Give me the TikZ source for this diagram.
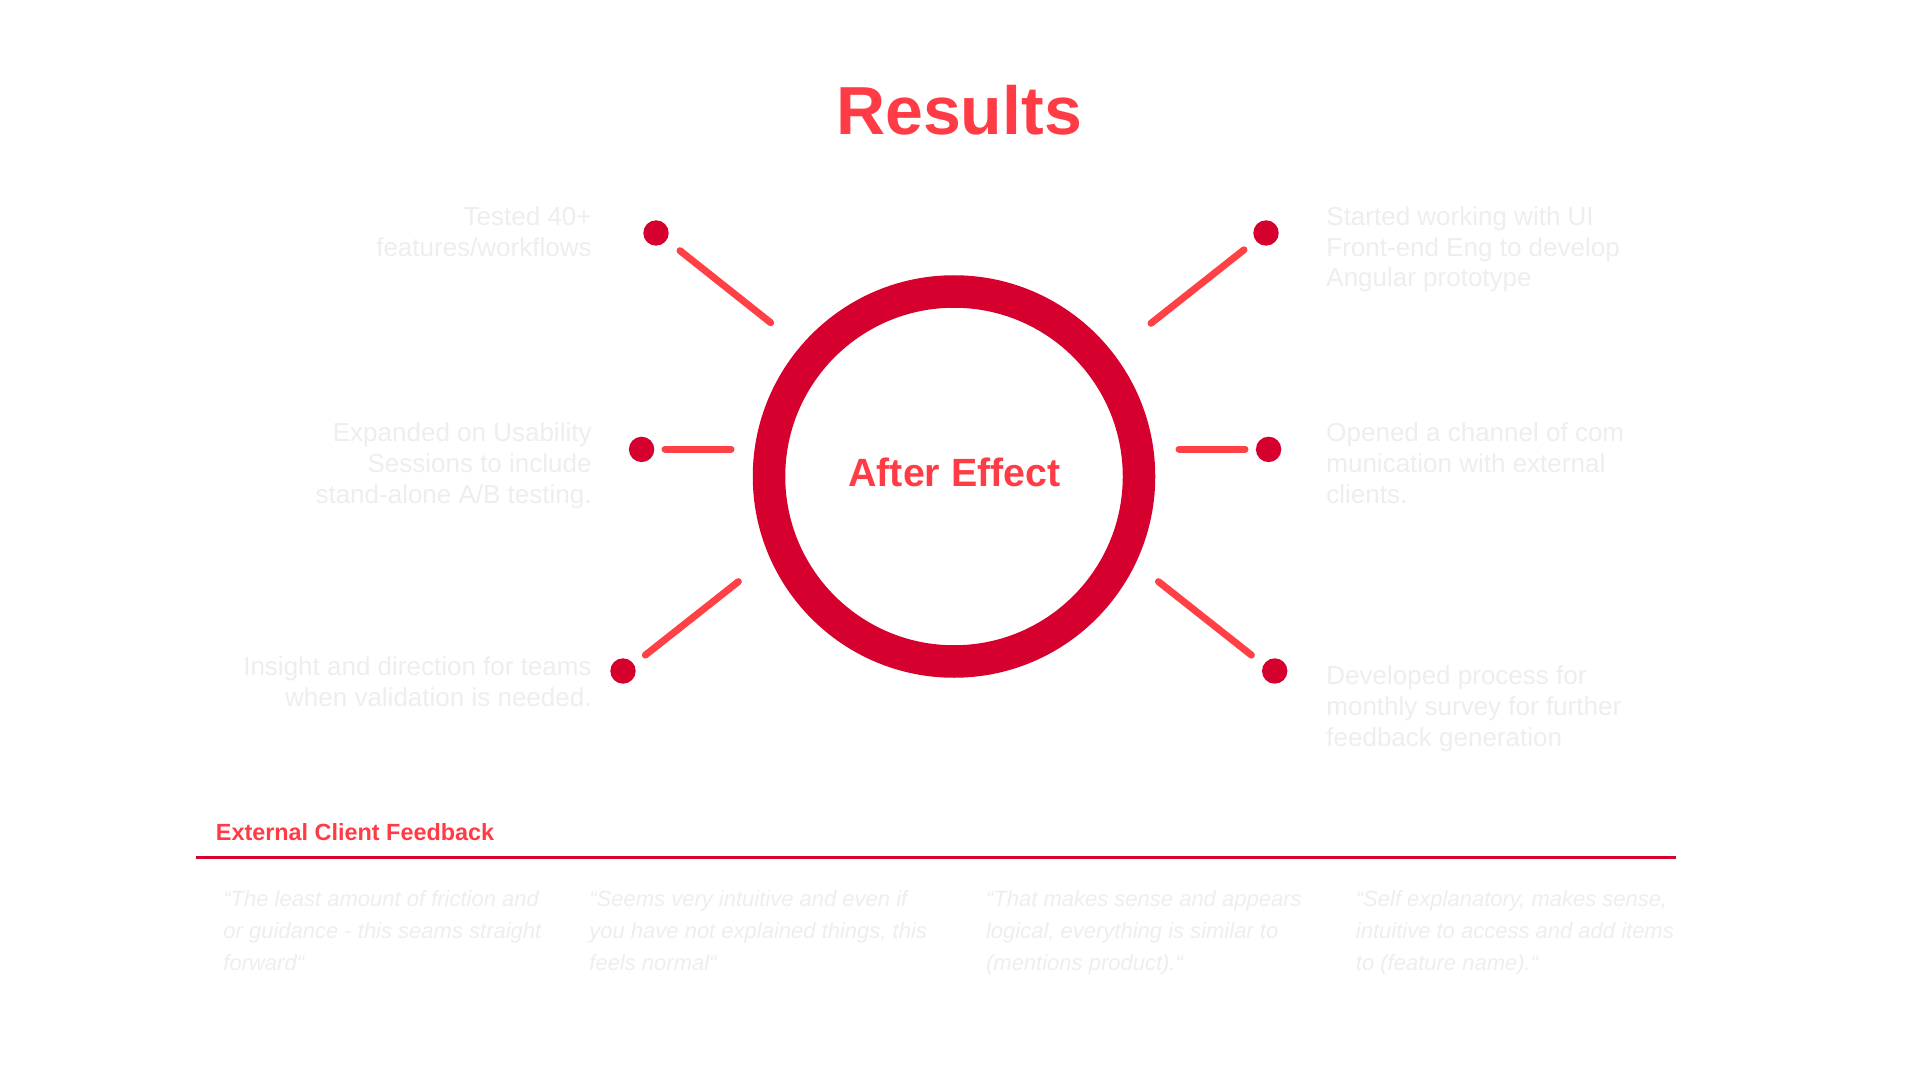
\documentclass[tikz,border=0pt]{standalone}
\usepackage{fontspec}
\setmainfont{Liberation Sans}
\definecolor{ringred}{RGB}{214,0,46}
\definecolor{spokered}{RGB}{255,65,70}
\definecolor{headred}{RGB}{255,59,70}
\definecolor{fadegray}{RGB}{238,238,238}
\begin{document}
\begin{tikzpicture}[x=0.5pt,y=-0.5pt,
  spoke/.style={line width=3.5pt,spokered,line cap=round},
  dot/.style={circle,fill=ringred,inner sep=0pt,minimum size=12.7pt},
  note/.style={text=fadegray,font=\fontsize{13}{15.4}\selectfont,inner sep=0pt},
  quote/.style={text=fadegray,font=\fontsize{11}{15.9}\selectfont\itshape,align=left,inner sep=0pt,anchor=base west}]
  \useasboundingbox (0,0) rectangle (1920,1080);
  \fill[white] (0,0) rectangle (1920,1080);
  % title and centre ring
  \node[text=headred,font=\fontsize{34}{40}\selectfont\bfseries,inner sep=0pt,anchor=base] (title) at (959,134.7) {Results};
  \node[circle,draw=ringred,line width=16.25pt,minimum size=185pt,inner sep=0pt] (core) at (954,476.5) {};
  \node[text=headred,font=\fontsize{19.7}{24}\selectfont\bfseries,inner sep=0pt,anchor=base] (effect) at (954.5,486.7) {After Effect};
  % dots
  \node[dot] (dotTL) at (656,233) {};
  \node[dot] (dotTR) at (1266,233) {};
  \node[dot] (dotML) at (641.6,449.4) {};
  \node[dot] (dotMR) at (1268.6,449.4) {};
  \node[dot] (dotBL) at (623,671) {};
  \node[dot] (dotBR) at (1274.7,671) {};
  % spokes
  \coordinate (tlA) at (680,250.7);   \coordinate (tlB) at (770.7,322.7);
  \coordinate (trA) at (1244,249.8);  \coordinate (trB) at (1151,323.3);
  \coordinate (mlA) at (665,449);     \coordinate (mlB) at (731,449);
  \coordinate (mrA) at (1245,449);    \coordinate (mrB) at (1179,449);
  \coordinate (blA) at (645.3,655.1); \coordinate (blB) at (738.4,581.6);
  \coordinate (brA) at (1251.4,655.1);\coordinate (brB) at (1158.4,581.6);
  \draw[spoke] (tlA) -- (tlB);
  \draw[spoke] (trA) -- (trB);
  \draw[spoke] (mlA) -- (mlB);
  \draw[spoke] (mrA) -- (mrB);
  \draw[spoke] (blA) -- (blB);
  \draw[spoke] (brA) -- (brB);
  % notes (anchored at the last line)
  \node[note,align=right,anchor=base east] (noteTL) at (592,256.7) {Tested 40+\\features/workflows};
  \node[note,align=left,anchor=base west] (noteTR) at (1326,287) {Started working with UI\\Front-end Eng to develop\\Angular prototype};
  \node[note,align=right,anchor=base east] (noteML) at (592,503.3) {Expanded on Usability\\Sessions to include\\stand-alone A/B testing.};
  \node[note,align=left,anchor=base west] (noteMR) at (1326,503.3) {Opened a channel of com\\munication with external\\clients.};
  \node[note,align=right,anchor=base east] (noteBL) at (592,706.7) {Insight and direction for teams\\when validation is needed.};
  \node[note,align=left,anchor=base west] (noteBR) at (1326,746.5) {Developed process for\\monthly survey for further\\feedback generation};
  % client feedback
  \node[text=headred,font=\fontsize{11.7}{14}\selectfont\bfseries,inner sep=0pt,anchor=base west] (fbhead) at (215.5,840) {External Client Feedback};
  \coordinate (ruleL) at (196,857.5);
  \coordinate (ruleR) at (1676,857.5);
  \draw[ringred,line width=1.1pt] (ruleL) -- (ruleR);
  \node[quote] (quoteA) at (223,970) {“The least amount of friction and\\or guidance - this seams straight\\forward“};
  \node[quote] (quoteB) at (589,970) {“Seems very intuitive and even if\\you have not explained things, this\\feels normal“};
  \node[quote] (quoteC) at (985.7,970) {“That makes sense and appears\\logical, everything is similar to\\(mentions product).“};
  \node[quote] (quoteD) at (1355.5,970) {“Self explanatory, makes sense,\\intuitive to access and add items\\to (feature name).“};
\end{tikzpicture}
\end{document}
